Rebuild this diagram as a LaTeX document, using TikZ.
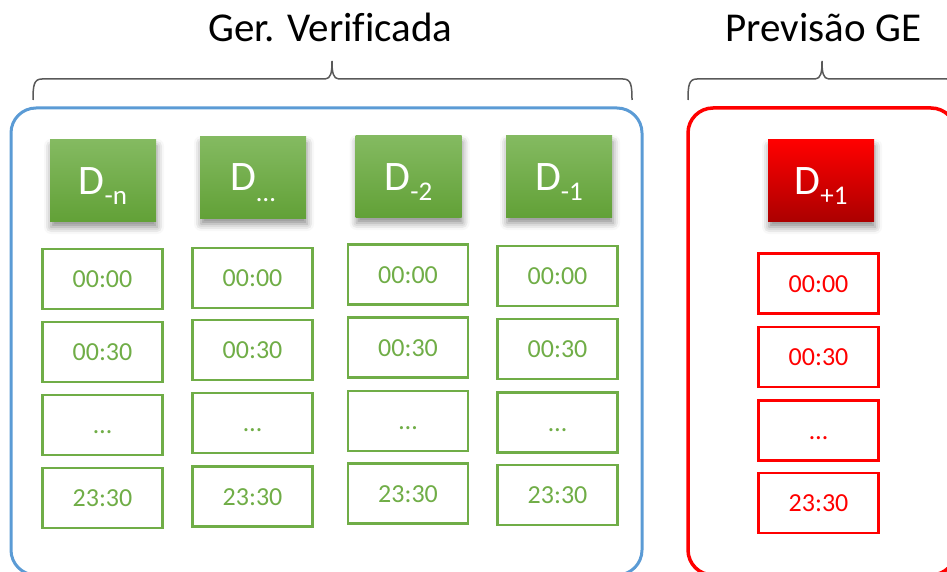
\documentclass[tikz,border=0pt]{standalone}
\usepackage{fontspec}
\setmainfont{Carlito}
\usetikzlibrary{shadows.blur}

\definecolor{verde}{RGB}{112,173,71}
\definecolor{verdeclaro}{RGB}{132,186,97}
\definecolor{verdeescuro}{RGB}{98,161,55}
\definecolor{azul}{RGB}{91,155,213}
\definecolor{vermelho}{RGB}{255,0,0}
\definecolor{vermelhoescuro}{RGB}{172,0,0}
\definecolor{cinzachave}{RGB}{89,89,89}

% dia com indice rebaixado
\newcommand{\dia}[1]{D\raisebox{-10pt}{\fontsize{27}{27}\selectfont #1}}

\tikzset{
  dia/.style={minimum width=106pt, minimum height=81pt, inner sep=0pt,
    text=white, text height=27pt, text depth=0pt,
    font=\fontsize{42}{42}\selectfont,
    blur shadow={shadow xshift=1pt, shadow yshift=-6pt,
      shadow blur radius=7pt, shadow opacity=45}},
  diaverde/.style={dia, top color=verdeclaro, bottom color=verdeescuro},
  diavermelho/.style={dia, top color=vermelho, bottom color=vermelhoescuro},
  hora/.style={draw, line width=2.5pt, minimum width=120pt, minimum height=60pt,
    inner sep=0pt, text height=17pt, text depth=0pt,
    font=\fontsize{26}{26}\selectfont},
  horaverde/.style={hora, draw=verde, text=verde},
  horavermelha/.style={hora, draw=vermelho, text=vermelho},
  chave/.style={draw=cinzachave, line width=1.5pt},
  grupo/.style={rounded corners=25pt, line width=3pt},
  titulo/.style={font=\fontsize{41}{41}\selectfont}
}

\begin{document}
\begin{tikzpicture}[x=1pt,y=-1pt]
	\useasboundingbox (0,0) rectangle (947,572);

	% titulos e chaves
	\node[titulo, anchor=base] (tver) at (330.5,42) {Ger. Verif\kern0pt icada};
	\node[titulo, anchor=base] (tprev) at (823.5,42) {Previsão GE};
	\draw[chave] (33,100) .. controls (33,85) and (34,79) .. (42,79) -- (325,79)
		.. controls (331,79) and (332,72) .. (332,61)
		.. controls (332,72) and (333,79) .. (339,79) -- (623,79)
		.. controls (631,79) and (632,85) .. (632,100);
	\draw[chave] (688,100) .. controls (688,85) and (689,79) .. (697,79) -- (815,79)
		.. controls (821,79) and (822,72) .. (822,61)
		.. controls (822,72) and (823,79) .. (829,79) -- (947,79)
		.. controls (955,79) and (956,85) .. (956,100);

	% grupos
	\draw[grupo, draw=azul] (11,108) rectangle (642,575);
	\draw[grupo, draw=vermelho, line width=3.5pt] (688,108) rectangle (956,575);

	% dias
	\node[diaverde] (dn) at (103,180.5) {\dia{-n}};
	\node[diaverde] (dret) at (253,177.5) {\dia{…}};
	\node[diaverde] (dm2) at (408.5,176.5) {\dia{-2}};
	\node[diaverde] (dm1) at (559,176.5) {\dia{-1}};
	\node[diavermelho] (dp1) at (821,180.5) {\dia{+1}};

	% horas de cada dia
	\node[horaverde] (dn-a) at (102.5,279) {00:00};
	\node[horaverde] (dn-b) at (102.5,352) {00:30};
	\node[horaverde] (dn-c) at (102.5,425) {…};
	\node[horaverde] (dn-d) at (102.5,498) {23:30};

	\node[horaverde] (dret-a) at (252.5,278) {00:00};
	\node[horaverde] (dret-b) at (252.5,350) {00:30};
	\node[horaverde] (dret-c) at (252.5,423) {…};
	\node[horaverde] (dret-d) at (252.5,496.5) {23:30};

	\node[horaverde] (dm2-a) at (408,274.5) {00:00};
	\node[horaverde] (dm2-b) at (408,347.5) {00:30};
	\node[horaverde] (dm2-c) at (408,421) {…};
	\node[horaverde] (dm2-d) at (408,493.5) {23:30};

	\node[horaverde] (dm1-a) at (557.5,276) {00:00};
	\node[horaverde] (dm1-b) at (557.5,349) {00:30};
	\node[horaverde] (dm1-c) at (557.5,422.5) {…};
	\node[horaverde] (dm1-d) at (557.5,495) {23:30};

	\node[horavermelha] (dp1-a) at (818.5,283.5) {00:00};
	\node[horavermelha] (dp1-b) at (818.5,357) {00:30};
	\node[horavermelha] (dp1-c) at (818.5,430.5) {…};
	\node[horavermelha] (dp1-d) at (818.5,503) {23:30};
\end{tikzpicture}
\end{document}
